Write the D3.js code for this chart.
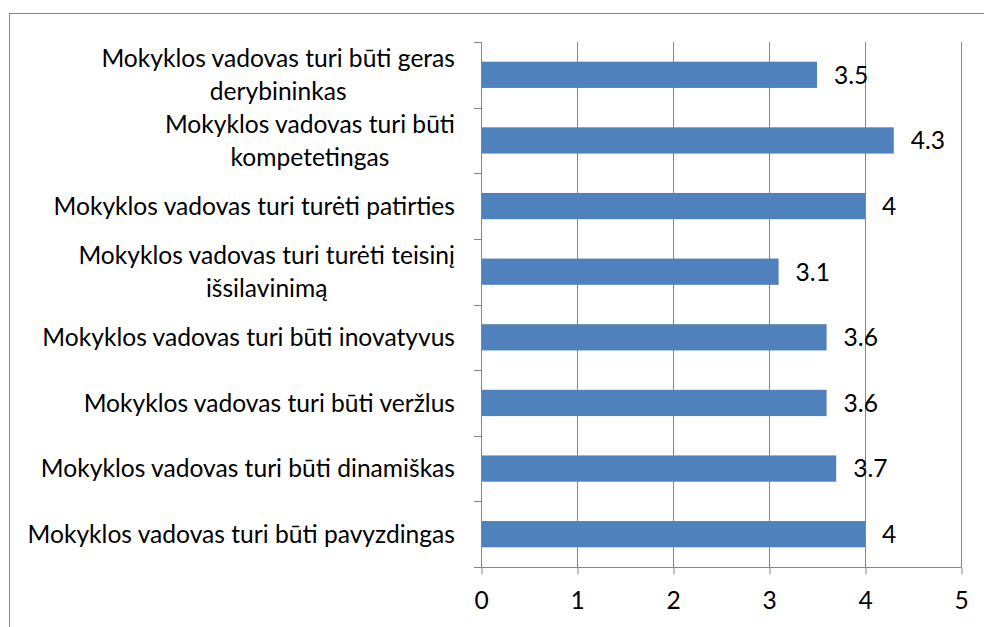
<!DOCTYPE html>
<html>
<head>
<meta charset="utf-8">
<script src="https://cdn.jsdelivr.net/npm/d3@7"></script>
<style>
  body { margin: 0; background: #fff; }
  text { font-family: Lato, "Liberation Sans", sans-serif; fill: #000; }
</style>
</head>
<body>
<div id="chart"></div>
<script>
// chart data, top to bottom
var categories = [
  ["Mokyklos vadovas turi būti geras", "derybininkas"],
  ["Mokyklos vadovas turi būti", "kompetetingas"],
  ["Mokyklos vadovas turi turėti patirties"],
  ["Mokyklos vadovas turi turėti teisinį", "išsilavinimą"],
  ["Mokyklos vadovas turi būti inovatyvus"],
  ["Mokyklos vadovas turi būti veržlus"],
  ["Mokyklos vadovas turi būti dinamiškas"],
  ["Mokyklos vadovas turi būti pavyzdingas"]
];
var values = [3.5, 4.3, 4, 3.1, 3.6, 3.6, 3.7, 4];
var xTicks = [0, 1, 2, 3, 4, 5];

var svgWidth = 984;
var svgHeight = 627;
var fontSize = 24.6;

// plot area
var plot = { left: 481, right: 961, top: 42, bottom: 567 };

var svg = d3.select("#chart")
  .append("svg")
  .attr("width", svgWidth)
  .attr("height", svgHeight);

// outer chart frame
svg.append("rect")
  .attr("x", 9.5)
  .attr("y", 13.5)
  .attr("width", 990)
  .attr("height", 640)
  .attr("fill", "none")
  .attr("stroke", "#868686")
  .attr("stroke-width", 1);

var keys = categories.map(function(c, i) { return "c" + i; });

var x = d3.scaleLinear()
  .domain([0, 5])
  .range([plot.left, plot.right]);

var y = d3.scaleBand()
  .domain(keys)
  .range([plot.top, plot.bottom]);

// vertical gridlines
svg.append("g")
  .selectAll("line")
  .data(xTicks.slice(1))
  .enter()
  .append("line")
  .attr("x1", d => Math.round(x(d)) + 0.5)
  .attr("x2", d => Math.round(x(d)) + 0.5)
  .attr("y1", plot.top)
  .attr("y2", plot.bottom)
  .attr("stroke", "#868686")
  .attr("stroke-width", 1);

// bars
svg.append("g")
  .selectAll("rect")
  .data(values)
  .enter()
  .append("rect")
  .attr("x", x(0))
  .attr("y", (d, i) => y(keys[i]) + y.bandwidth() * 0.3)
  .attr("width", d => x(d) - x(0))
  .attr("height", y.bandwidth() * 0.4)
  .attr("fill", "#4f81bd");

// value labels
svg.append("g")
  .selectAll("text")
  .data(values)
  .enter()
  .append("text")
  .attr("x", d => x(d) + 17)
  .attr("y", (d, i) => y(keys[i]) + y.bandwidth() / 2)
  .attr("dy", "0.36em")
  .attr("font-size", fontSize)
  .text(d => d);

// x axis
var xAxis = svg.append("g")
  .attr("transform", `translate(0, ${plot.bottom + 0.5})`)
  .call(d3.axisBottom(x).tickValues(xTicks).tickSize(7).tickFormat(d3.format("d")));

xAxis.select(".domain")
  .attr("stroke", "#868686")
  .attr("d", `M${plot.left - 7},0H${plot.right + 0.5}`);
xAxis.selectAll(".tick line")
  .attr("stroke", "#868686")
  .attr("transform", "translate(0.5,0)");
xAxis.selectAll(".tick text")
  .attr("y", 41)
  .attr("dy", 0)
  .attr("font-family", "Lato, sans-serif")
  .attr("font-size", fontSize)
  .attr("fill", "#000");

// y axis line with ticks at category boundaries
var yAxis = svg.append("g");
yAxis.append("line")
  .attr("x1", plot.left + 0.5)
  .attr("x2", plot.left + 0.5)
  .attr("y1", plot.top)
  .attr("y2", plot.bottom)
  .attr("stroke", "#868686");

var bounds = keys.map(k => y(k)).concat([plot.bottom]);
yAxis.selectAll(".ytick")
  .data(bounds)
  .enter()
  .append("line")
  .attr("class", "ytick")
  .attr("x1", plot.left - 7)
  .attr("x2", plot.left + 0.5)
  .attr("y1", d => Math.round(d) + 0.5)
  .attr("y2", d => Math.round(d) + 0.5)
  .attr("stroke", "#868686");

// category labels, wrapped lines centred on each other, block right aligned
var lineHeight = 32.5;
var labels = svg.append("g")
  .selectAll("g")
  .data(categories)
  .enter()
  .append("g");

labels.each(function(lines, i) {
  var g = d3.select(this);
  var cy = y(keys[i]) + y.bandwidth() / 2;
  var texts = lines.map(function(line, j) {
    return g.append("text")
      .attr("font-size", fontSize)
      .attr("text-anchor", "middle")
      .attr("y", cy + (j - (lines.length - 1) / 2) * lineHeight)
      .attr("dy", "0.36em")
      .text(line);
  });
  var maxW = d3.max(texts, t => t.node().getComputedTextLength());
  texts.forEach(t => t.attr("x", 455 - maxW / 2));
});
</script>
</body>
</html>
